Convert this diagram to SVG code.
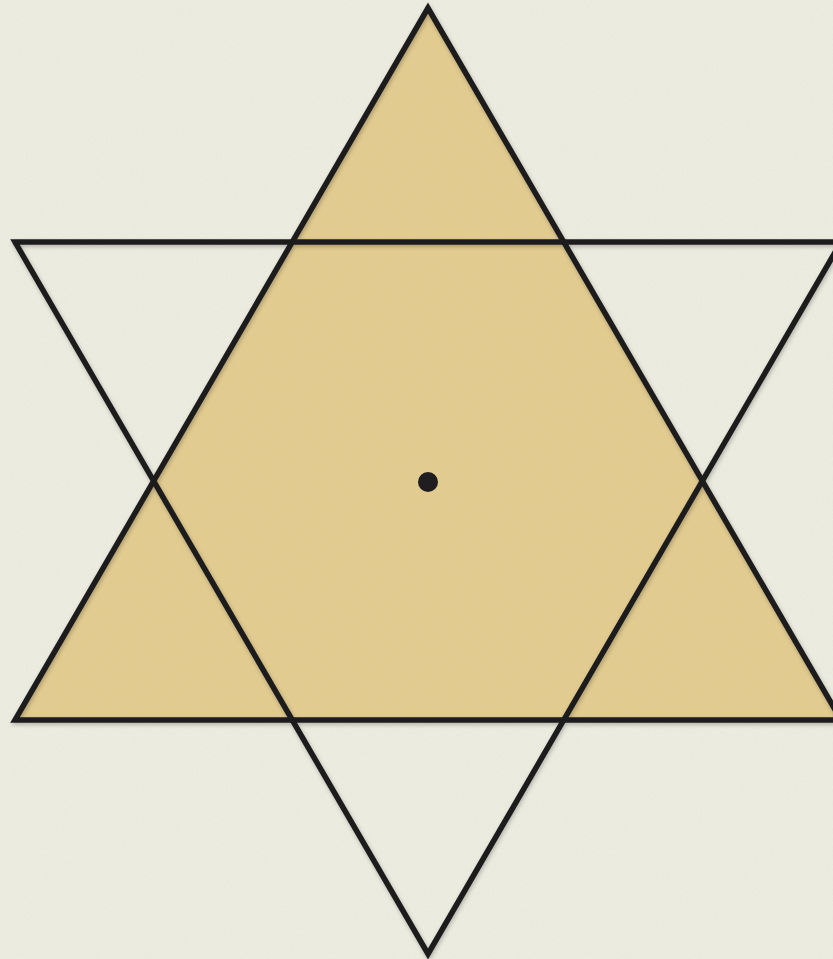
<svg xmlns="http://www.w3.org/2000/svg" width="833" height="959" viewBox="0 0 833 959">
  <defs>
    <filter id="paper" x="0" y="0" width="100%" height="100%">
      <feTurbulence type="fractalNoise" baseFrequency="0.9 0.5" numOctaves="2" seed="3" result="n"/>
      <feColorMatrix in="n" type="matrix" values="0 0 0 0 0.55  0 0 0 0 0.55  0 0 0 0 0.5  0 0 0 0.18 0" result="t"/>
      <feComposite in="t" in2="SourceGraphic" operator="in" result="tc"/>
      <feMerge><feMergeNode in="SourceGraphic"/><feMergeNode in="tc"/></feMerge>
    </filter>
    <filter id="shade" x="-5%" y="-5%" width="110%" height="110%">
      <feGaussianBlur in="SourceAlpha" stdDeviation="2"/>
      <feOffset dx="1" dy="2" result="b"/>
      <feColorMatrix in="b" type="matrix" values="0 0 0 0 0  0 0 0 0 0  0 0 0 0 0  0 0 0 0.25 0" result="s"/>
      <feMerge><feMergeNode in="s"/><feMergeNode in="SourceGraphic"/></feMerge>
    </filter>
  </defs>
  <style>
    .edge { fill: none; stroke: #1f1d1f; stroke-width: 5.5; stroke-linejoin: miter; }
    .fill { fill: #e4cc8a; }
  </style>
  <rect width="833" height="959" fill="#eeeee2" filter="url(#paper)"/>
  <g id="up-triangle-fill">
    <polygon class="fill" points="428,8 15,720 841,720" filter="url(#paper)"/>
  </g>
  <g id="connectors" filter="url(#shade)">
    <polygon class="edge" points="428,8 15,720 841,720"/>
    <polygon class="edge" points="15,242 841,242 428,954"/>
  </g>
  <g id="center">
    <circle cx="428" cy="482" r="10" fill="#1f1d1f"/>
  </g>
</svg>
